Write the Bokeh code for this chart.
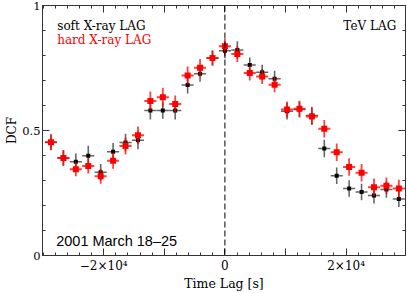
from bokeh.plotting import figure
from bokeh.models import Range1d, FixedTicker, LinearAxis, Label, Span, ColumnDataSource
from bokeh.embed import file_html
from bokeh.resources import INLINE

# ---- data ----
lag = [-28700, -26650, -24600, -22550, -20500, -18450, -16400, -14350, -12300,
       -10250, -8200, -6150, -4100, -2050, 0, 2050, 4100, 6150, 8200, 10250,
       12300, 14350, 16400, 18450, 20500, 22550, 24600, 26650, 28700]
lag_err = [1000] * 29

soft_dcf = [0.453, 0.390, 0.375, 0.399, 0.333, 0.415, 0.452, 0.461, 0.580,
            0.580, 0.580, 0.682, 0.727, 0.790, 0.819, 0.822, 0.762, 0.733,
            0.707, 0.577, 0.584, 0.560, 0.428, 0.319, 0.268, 0.254, 0.240,
            0.264, 0.226]
soft_err = [0.032, 0.032, 0.033, 0.040, 0.033, 0.035, 0.035, 0.036, 0.036,
            0.033, 0.036, 0.034, 0.032, 0.030, 0.030, 0.035, 0.030, 0.030,
            0.032, 0.033, 0.032, 0.035, 0.035, 0.033, 0.033, 0.033, 0.032,
            0.033, 0.032]

hard_dcf = [0.453, 0.390, 0.345, 0.358, 0.317, 0.379, 0.438, 0.481, 0.618,
            0.633, 0.606, 0.720, 0.751, 0.790, 0.837, 0.806, 0.730, 0.716,
            0.683, 0.584, 0.587, 0.556, 0.507, 0.413, 0.354, 0.331, 0.273,
            0.279, 0.268]
hard_err = [0.031, 0.030, 0.028, 0.030, 0.030, 0.032, 0.034, 0.035, 0.038,
            0.038, 0.034, 0.036, 0.035, 0.030, 0.030, 0.032, 0.030, 0.030,
            0.030, 0.032, 0.032, 0.034, 0.035, 0.035, 0.035, 0.035, 0.035,
            0.033, 0.035]

x_tick_labels = {-20000: "\u22122\u00d710\u2074", -10000: "", 0: "0",
                 10000: "", 20000: "2\u00d710\u2074"}
y_tick_labels = {0: "0", 0.5: "0.5", 1: "1"}

SERIF = "DejaVu Serif"

def src(y, yerr):
    return ColumnDataSource(dict(
        x=lag, y=y,
        xl=[a - b for a, b in zip(lag, lag_err)],
        xr=[a + b for a, b in zip(lag, lag_err)],
        yl=[a - b for a, b in zip(y, yerr)],
        yh=[a + b for a, b in zip(y, yerr)],
    ))

p = figure(width=407, height=293, x_range=Range1d(-30100, 29800),
           y_range=Range1d(0, 1), output_backend="svg", toolbar_location=None,
           min_border_left=42, min_border_right=2, min_border_top=5,
           min_border_bottom=36)
p.xgrid.visible = False
p.ygrid.visible = False
p.outline_line_color = "#333333"
p.background_fill_color = "white"
p.border_fill_color = "white"

xticker = FixedTicker(ticks=[-20000, -10000, 0, 10000, 20000],
                      minor_ticks=list(range(-30000, 30001, 2000)))
yticker = FixedTicker(ticks=[0, 0.5, 1],
                      minor_ticks=[0.1, 0.2, 0.3, 0.4, 0.6, 0.7, 0.8, 0.9])

def style_axis(ax, ticker, labels=None):
    ax.ticker = ticker
    ax.axis_line_color = "#333333"
    ax.major_tick_line_color = "#333333"
    ax.minor_tick_line_color = "#333333"
    ax.major_tick_in = 7
    ax.major_tick_out = 0
    ax.minor_tick_in = 3
    ax.minor_tick_out = 0
    ax.major_label_text_font = SERIF
    ax.major_label_text_font_size = "12px"
    ax.major_label_text_color = "black"
    ax.axis_label_text_font = SERIF
    ax.axis_label_text_font_size = "12.5px"
    ax.axis_label_text_font_style = "normal"
    ax.axis_label_text_color = "black"
    if labels is not None:
        ax.major_label_overrides = labels

xa = p.xaxis[0]
style_axis(xa, xticker, x_tick_labels)
xa.axis_label = "Time Lag [s]"
xa.major_label_standoff = 3
xa.axis_label_standoff = 0

ya = p.yaxis[0]
style_axis(ya, yticker, y_tick_labels)
ya.major_label_text_font_size = "11.5px"
ya.axis_label = "DCF"
ya.axis_label_text_font_size = "12px"
ya.major_label_standoff = 2
ya.axis_label_standoff = 0

top = LinearAxis()
style_axis(top, xticker)
top.major_label_text_font_size = "0px"
top.major_label_text_color = None
top.major_label_standoff = 0
p.add_layout(top, "above")

right = LinearAxis()
style_axis(right, yticker)
right.major_label_text_font_size = "0px"
right.major_label_text_color = None
right.major_label_standoff = 0
p.add_layout(right, "right")

p.add_layout(Span(location=0, dimension="height", line_color="black",
                  line_width=1, line_dash="6 3"))

s_soft = src(soft_dcf, soft_err)
s_hard = src(hard_dcf, hard_err)

for s, col, alpha, lw, size in [(s_soft, "black", 0.6, 1.6, 4),
                                (s_hard, "#ff0000", 0.75, 1.8, 6)]:
    p.segment(x0="xl", x1="xr", y0="y", y1="y", source=s, line_color=col,
              line_alpha=alpha, line_width=lw)
    p.segment(x0="x", x1="x", y0="yl", y1="yh", source=s, line_color=col,
              line_alpha=alpha, line_width=lw)
    p.scatter(x="x", y="y", source=s, marker="square", size=size,
              fill_color=col, line_color=None)

p.add_layout(Label(x=-27670, y=0.918, text="soft X-ray LAG", text_font=SERIF,
                   text_font_size="12px", text_color="black",
                   text_baseline="alphabetic"))
p.add_layout(Label(x=-27670, y=0.862, text="hard X-ray LAG", text_font=SERIF,
                   text_font_size="12px", text_color="#ff0000",
                   text_baseline="alphabetic"))
p.add_layout(Label(x=28270, y=0.918, text="TeV LAG", text_font=SERIF,
                   text_font_size="12px", text_color="black",
                   text_align="right", text_baseline="alphabetic"))
p.add_layout(Label(x=-27840, y=0.0595, text="2001 March 18\u201325",
                   text_font="Liberation Sans", text_font_size="14.5px",
                   text_color="black", text_baseline="alphabetic"))

open("out.html", "w").write(file_html(p, INLINE))
